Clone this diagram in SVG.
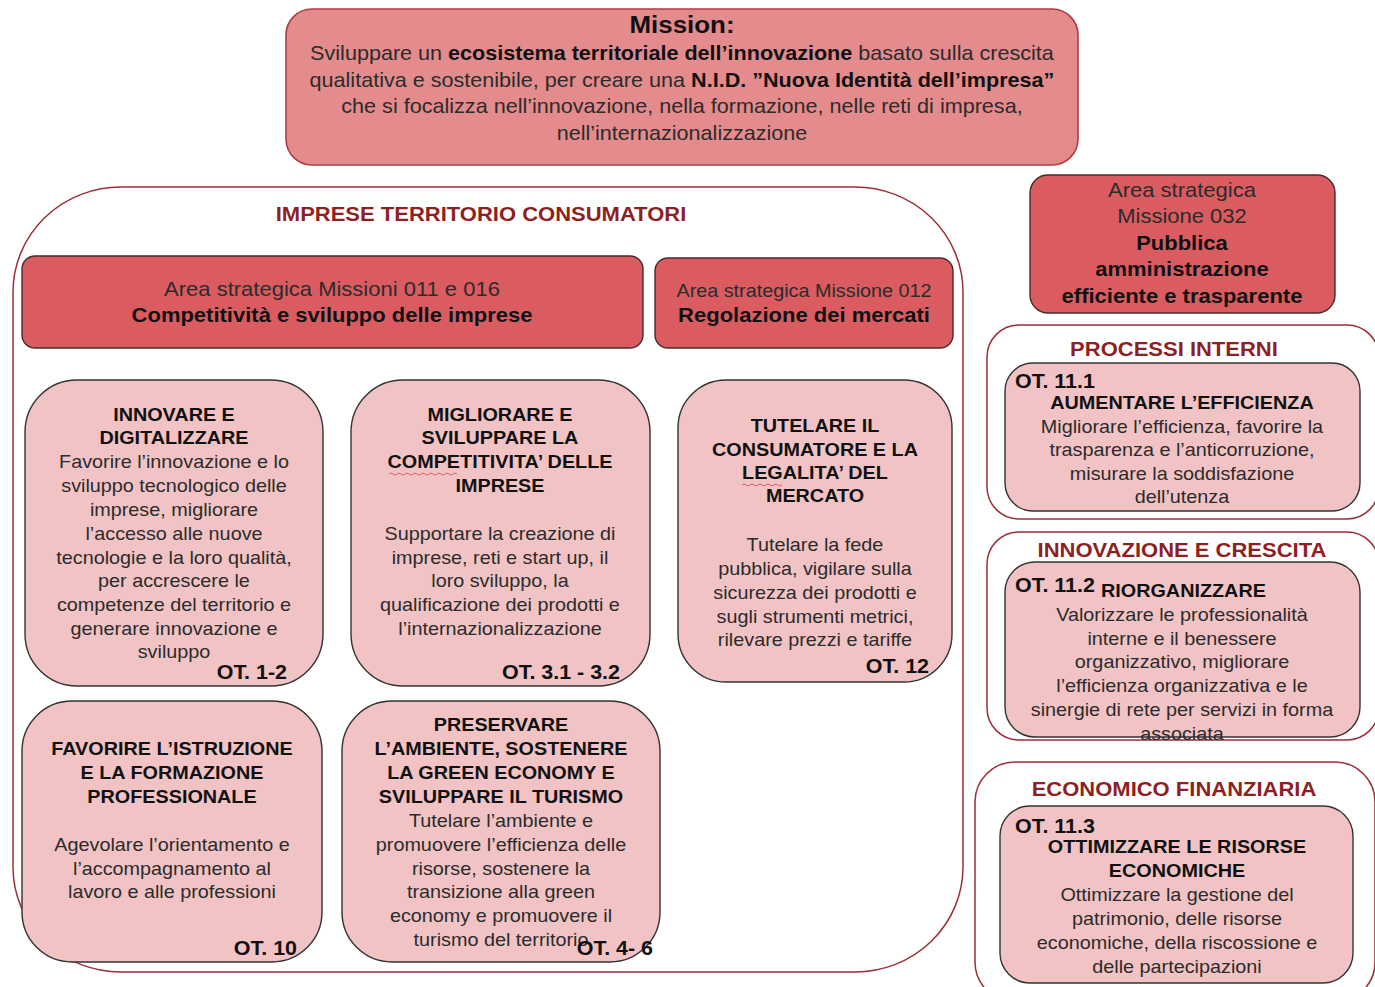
<svg xmlns="http://www.w3.org/2000/svg" width="1375" height="987" viewBox="0 0 1375 987">
<style>
text{font-family:"Liberation Sans",Arial,sans-serif;fill:#2b2b2b;transform-box:fill-box;transform-origin:center;transform:scaleX(1.1);}
.e{transform-origin:right center;}
.s{transform-origin:left center;}
.mission{fill:#E48B8D;stroke:#B23A40;stroke-width:1.6;}
.head{fill:#DA5C61;stroke:#4a2a2a;stroke-width:1.4;}
.card{fill:#F1C3C5;stroke:#333;stroke-width:1.4;}
.outer{fill:none;stroke:#9B2F3A;stroke-width:1.5;}
.t18{font-size:18px;text-anchor:middle;}
.b18{font-size:18px;font-weight:bold;text-anchor:middle;fill:#111;}
.red{font-size:20px;font-weight:bold;fill:#8E1F22;text-anchor:middle;}
.ot{font-size:19.5px;font-weight:bold;fill:#111;}
.h20{font-size:20px;text-anchor:middle;}
.m{transform:scaleX(1.08);}
</style>
<rect width="1375" height="987" fill="#ffffff"/>

<g id="mission">
<rect class="mission" x="286" y="9" width="792" height="156" rx="26"/>
<text x="682" y="33" class="m" style="font-size:24px;font-weight:bold;text-anchor:middle;fill:#111">Mission:</text>
<text x="682" y="60" class="h20 m">Sviluppare un <tspan font-weight="bold" fill="#111">ecosistema territoriale dell’innovazione</tspan> basato sulla crescita</text>
<text x="682" y="87" class="h20 m">qualitativa e sostenibile, per creare una <tspan font-weight="bold" fill="#111">N.I.D. ”Nuova Identità dell’impresa”</tspan></text>
<text x="682" y="113" class="h20 m">che si focalizza nell’innovazione, nella formazione, nelle reti di impresa,</text>
<text x="682" y="140" class="h20 m">nell’internazionalizzazione</text>
</g>

<g id="imprese-territorio-consumatori">
<rect class="outer" x="13" y="187" width="950" height="785" rx="108" ry="105"/>
<text x="481" y="221" class="red">IMPRESE TERRITORIO CONSUMATORI</text>
</g>

<g id="area-011-016">
<rect class="head" x="22" y="256" width="621" height="92" rx="13"/>
<text x="332" y="296" class="h20">Area strategica Missioni 011 e 016</text>
<text x="332" y="322" style="font-size:20px;font-weight:bold;text-anchor:middle;fill:#111">Competitività e sviluppo delle imprese</text>
</g>

<g id="area-012">
<rect class="head" x="655" y="258" width="298" height="90" rx="13"/>
<text x="804" y="297" style="font-size:18px;text-anchor:middle">Area strategica Missione 012</text>
<text x="804" y="322" style="font-size:20px;font-weight:bold;text-anchor:middle;fill:#111">Regolazione dei mercati</text>
</g>

<g id="area-032">
<rect class="head" x="1030" y="175" width="305" height="138" rx="18"/>
<text x="1182" y="197" class="h20">Area strategica</text>
<text x="1182" y="223" class="h20">Missione 032</text>
<text x="1182" y="250" style="font-size:20px;font-weight:bold;text-anchor:middle;fill:#111">Pubblica</text>
<text x="1182" y="276" style="font-size:20px;font-weight:bold;text-anchor:middle;fill:#111">amministrazione</text>
<text x="1182" y="303" style="font-size:20px;font-weight:bold;text-anchor:middle;fill:#111">efficiente e trasparente</text>
</g>

<g id="card-innovare">
<rect class="card" x="25" y="380" width="298" height="306" rx="52"/>
<text x="174" y="421" class="b18">INNOVARE E</text>
<text x="174" y="444" class="b18">DIGITALIZZARE</text>
<text x="174" y="468" class="t18">Favorire l’innovazione e lo</text>
<text x="174" y="492" class="t18">sviluppo tecnologico delle</text>
<text x="174" y="516" class="t18">imprese, migliorare</text>
<text x="174" y="540" class="t18">l’accesso alle nuove</text>
<text x="174" y="564" class="t18">tecnologie e la loro qualità,</text>
<text x="174" y="587" class="t18">per accrescere le</text>
<text x="174" y="611" class="t18">competenze del territorio e</text>
<text x="174" y="635" class="t18">generare innovazione e</text>
<text x="174" y="658" class="t18">sviluppo</text>
<text x="287" y="679" class="ot e" text-anchor="end">OT. 1-2</text>
</g>

<g id="card-migliorare">
<rect class="card" x="351" y="380" width="299" height="306" rx="52"/>
<text x="500" y="421" class="b18">MIGLIORARE E</text>
<text x="500" y="444" class="b18">SVILUPPARE LA</text>
<text x="500" y="468" class="b18">COMPETITIVITA’ DELLE</text>
<path d="M389 474 q2 -2 4 0 t4 0 t4 0 t4 0 t4 0 t4 0 t4 0 t4 0 t4 0 t4 0 t4 0 t4 0 t4 0 t4 0 t4 0 t4 0 t4 0" fill="none" stroke="#D04545" stroke-width="0.8"/>
<text x="500" y="492" class="b18">IMPRESE</text>
<text x="500" y="540" class="t18">Supportare la creazione di</text>
<text x="500" y="564" class="t18">imprese, reti e start up, il</text>
<text x="500" y="587" class="t18">loro sviluppo, la</text>
<text x="500" y="611" class="t18">qualificazione dei prodotti e</text>
<text x="500" y="635" class="t18">l’internazionalizzazione</text>
<text x="620" y="679" class="ot e" text-anchor="end">OT. 3.1 - 3.2</text>
</g>

<g id="card-tutelare">
<rect class="card" x="678" y="380" width="274" height="302" rx="48"/>
<text x="815" y="432" class="b18">TUTELARE IL</text>
<text x="815" y="456" class="b18">CONSUMATORE E LA</text>
<text x="815" y="479" class="b18">LEGALITA’ DEL</text>
<path d="M742 485 q2 -2 4 0 t4 0 t4 0 t4 0 t4 0 t4 0 t4 0 t4 0 t4 0 t4 0" fill="none" stroke="#D04545" stroke-width="0.8"/>
<text x="815" y="502" class="b18">MERCATO</text>
<text x="815" y="551" class="t18">Tutelare la fede</text>
<text x="815" y="575" class="t18">pubblica, vigilare sulla</text>
<text x="815" y="599" class="t18">sicurezza dei prodotti e</text>
<text x="815" y="623" class="t18">sugli strumenti metrici,</text>
<text x="815" y="646" class="t18">rilevare prezzi e tariffe</text>
<text x="929" y="673" class="ot e" text-anchor="end">OT. 12</text>
</g>

<g id="card-istruzione">
<rect class="card" x="22" y="701" width="300" height="261" rx="50"/>
<text x="172" y="755" class="b18">FAVORIRE L’ISTRUZIONE</text>
<text x="172" y="779" class="b18">E LA FORMAZIONE</text>
<text x="172" y="803" class="b18">PROFESSIONALE</text>
<text x="172" y="851" class="t18">Agevolare l’orientamento e</text>
<text x="172" y="875" class="t18">l’accompagnamento al</text>
<text x="172" y="898" class="t18">lavoro e alle professioni</text>
<text x="297" y="955" class="ot e" text-anchor="end">OT. 10</text>
</g>

<g id="card-ambiente">
<rect class="card" x="342" y="701" width="318" height="261" rx="50"/>
<text x="501" y="731" class="b18">PRESERVARE</text>
<text x="501" y="755" class="b18">L’AMBIENTE, SOSTENERE</text>
<text x="501" y="779" class="b18">LA GREEN ECONOMY E</text>
<text x="501" y="803" class="b18">SVILUPPARE IL TURISMO</text>
<text x="501" y="827" class="t18">Tutelare l’ambiente e</text>
<text x="501" y="851" class="t18">promuovere l’efficienza delle</text>
<text x="501" y="875" class="t18">risorse, sostenere la</text>
<text x="501" y="898" class="t18">transizione alla green</text>
<text x="501" y="922" class="t18">economy e promuovere il</text>
<text x="501" y="946" class="t18">turismo del territorio</text>
<text x="653" y="955" class="ot e" text-anchor="end">OT. 4- 6</text>
</g>

<g id="processi-interni">
<rect class="outer" x="987" y="325" width="392" height="194" rx="32"/>
<text x="1174" y="356" class="red">PROCESSI INTERNI</text>
<rect class="card" x="1005" y="363" width="355" height="148" rx="28"/>
<text x="1015" y="388" class="ot s">OT. 11.1</text>
<text x="1182" y="409" class="b18">AUMENTARE L’EFFICIENZA</text>
<text x="1182" y="433" class="t18">Migliorare l’efficienza, favorire la</text>
<text x="1182" y="456" class="t18">trasparenza e l’anticorruzione,</text>
<text x="1182" y="480" class="t18">misurare la soddisfazione</text>
<text x="1182" y="503" class="t18">dell’utenza</text>
</g>

<g id="innovazione-crescita">
<rect class="outer" x="987" y="532" width="392" height="208" rx="32"/>
<text x="1182" y="557" class="red">INNOVAZIONE E CRESCITA</text>
<rect class="card" x="1005" y="562" width="355" height="175" rx="30"/>
<text x="1015" y="592" class="ot s">OT. 11.2</text>
<text x="1101" y="597" class="s" style="font-size:18px;font-weight:bold;fill:#111">RIORGANIZZARE</text>
<text x="1182" y="621" class="t18">Valorizzare le professionalità</text>
<text x="1182" y="645" class="t18">interne e il benessere</text>
<text x="1182" y="668" class="t18">organizzativo, migliorare</text>
<text x="1182" y="692" class="t18">l’efficienza organizzativa e le</text>
<text x="1182" y="716" class="t18">sinergie di rete per servizi in forma</text>
<text x="1182" y="740" class="t18">associata</text>
</g>

<g id="economico-finanziaria">
<rect class="outer" x="975" y="762" width="400" height="240" rx="40"/>
<text x="1174" y="796" class="red">ECONOMICO FINANZIARIA</text>
<rect class="card" x="1000" y="806" width="353" height="177" rx="30"/>
<text x="1015" y="833" class="ot s">OT. 11.3</text>
<text x="1177" y="853" class="b18">OTTIMIZZARE LE RISORSE</text>
<text x="1177" y="877" class="b18">ECONOMICHE</text>
<text x="1177" y="901" class="t18">Ottimizzare la gestione del</text>
<text x="1177" y="925" class="t18">patrimonio, delle risorse</text>
<text x="1177" y="949" class="t18">economiche, della riscossione e</text>
<text x="1177" y="973" class="t18">delle partecipazioni</text>
</g>

<g id="connectors"></g>
</svg>
